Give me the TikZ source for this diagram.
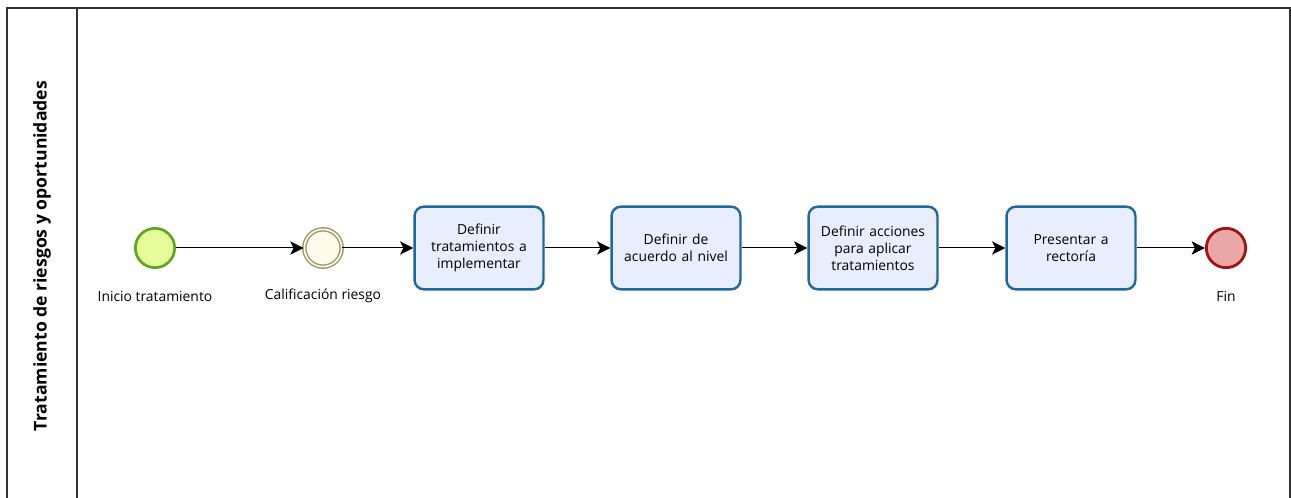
\documentclass[tikz,border=0pt]{standalone}
\usepackage{fontspec}
\setmainfont{Open Sans}
\usetikzlibrary{arrows.meta}
\definecolor{taskline}{HTML}{1F6A99}
\definecolor{taskfill}{HTML}{E8EEFD}
\definecolor{startline}{HTML}{62A420}
\definecolor{startfill}{HTML}{E4FB98}
\definecolor{midline}{HTML}{A09B60}
\definecolor{midfill}{HTML}{FFFAEC}
\definecolor{endline}{HTML}{A11414}
\definecolor{endfill}{HTML}{EBA6A6}
\tikzset{
  px/.style={x=0.75pt,y=-0.75pt},
  task/.style={draw=taskline, fill=taskfill, line width=1.8pt, rounded corners=7pt,
    minimum width=94.5pt, minimum height=62pt, align=center, font=\fontsize{10.4}{12.6}\selectfont, text width=90pt},
  startev/.style={circle, draw=startline, fill=startfill, line width=2pt, minimum size=29.5pt, inner sep=0pt},
  midev/.style={circle, draw=midline, fill=midfill, line width=1.1pt, double=white, double distance=1.2pt, minimum size=28pt, inner sep=0pt},
  endev/.style={circle, draw=endline, fill=endfill, line width=2.1pt, minimum size=29.5pt, inner sep=0pt},
  evlabel/.style={font=\fontsize{10.4}{12.6}\selectfont},
  flow/.style={line width=0.75pt, -{Stealth[length=10pt,width=10pt,inset=2.5pt]}},
}
\begin{document}
\begin{tikzpicture}[px]
\useasboundingbox (0,0) rectangle (1291,498);
% pool and lane frame
\begin{scope}
\clip (0,0) rectangle (1291,498);
\draw[line width=0.9pt, draw=black!80] (7,8) rectangle (1290,520);
\draw[line width=0.9pt, draw=black!80] (77,8) -- (77,520);
\end{scope}
\node[rotate=90, font=\bfseries\fontsize{13.2}{15}\selectfont] (lane) at (42,256) {Tratamiento de riesgos y oportunidades};
% events and tasks
\node[startev] (start) at (155,248) {};
\node[evlabel] (startlbl) at (155,296) {Inicio tratamiento};
\node[midev] (calif) at (323,248) {};
\node[evlabel] (califlbl) at (323,296) {Calificación riesgo};
\node[task] (t1) at (479,248) {Definir\\tratamientos a\\implementar};
\node[task] (t2) at (676,248) {Definir de\\acuerdo al nivel};
\node[task] (t3) at (873,248) {Definir acciones\\para aplicar\\tratamientos};
\node[task] (t4) at (1071,248) {Presentar a\\rectoría};
\node[endev] (fin) at (1226,248) {};
\node[evlabel] (finlbl) at (1226,296) {Fin};
% sequence flows
\draw[flow] (start) -- (calif);
\draw[flow] (calif) -- (t1);
\draw[flow] (t1) -- (t2);
\draw[flow] (t2) -- (t3);
\draw[flow] (t3) -- (t4);
\draw[flow] (t4) -- (fin);
\end{tikzpicture}
\end{document}
